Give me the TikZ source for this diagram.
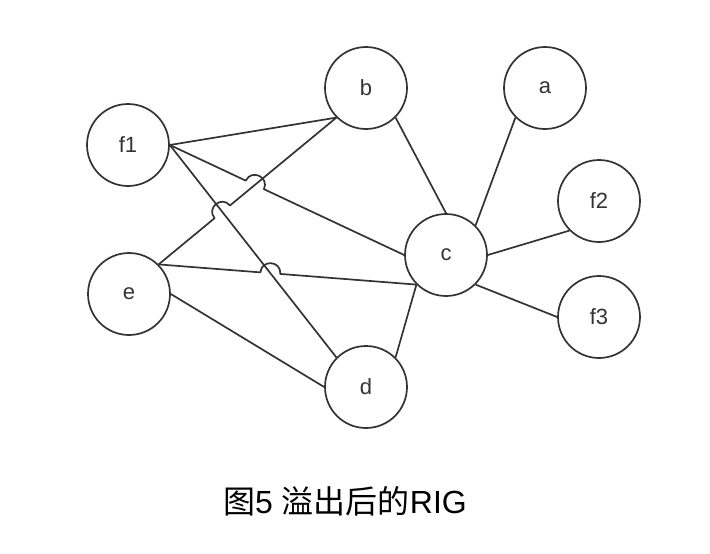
\documentclass[tikz,border=0pt]{standalone}
\usepackage{fontspec}
\setmainfont{Liberation Sans}
\newfontfamily\cjk{Noto Sans CJK SC}
\usetikzlibrary{calc,intersections}
\definecolor{ink}{HTML}{333333}
\tikzset{
  vtx/.style={circle,draw=ink,line width=1.7pt,minimum size=82pt,inner sep=0pt,
    text=ink,font=\fontsize{22}{22}\selectfont},
  edge/.style={draw=ink,line width=1.7pt,line join=round},
}
\newcommand{\hr}{10pt}
\begin{document}
\begin{tikzpicture}[x=1pt,y=-1pt]
\useasboundingbox (0,0) rectangle (710,554);
\node[vtx] (f1) at (128,145) {f1};
\node[vtx] (b)  at (366,88)  {b};
\node[vtx] (a)  at (545,88)  {a};
\node[vtx] (f2) at (599,201) {f2};
\node[vtx] (c)  at (446,255) {c};
\node[vtx] (f3) at (599,317) {f3};
\node[vtx] (e)  at (129,294) {e};
\node[vtx] (d)  at (366,387) {d};
% crossing points
\path[name path=fc] (f1.east) -- (c.west);
\path[name path=eb] (e.45) -- (b.225);
\path[name path=fd] (f1.east) -- (d.135);
\path[name path=ec] (e.45) -- (c.225);
\path[name intersections={of=fc and eb, by=X1}];
\path[name intersections={of=eb and fd, by=X2}];
\path[name intersections={of=ec and fd, by=X3}];
\coordinate (h1a) at ($(X1)!\hr!(f1.east)$);
\coordinate (h1b) at ($(X1)!\hr!(c.west)$);
\coordinate (h2a) at ($(X2)!\hr!(e.45)$);
\coordinate (h2b) at ($(X2)!\hr!(b.225)$);
\coordinate (h3a) at ($(X3)!\hr!(e.45)$);
\coordinate (h3b) at ($(X3)!\hr!(c.225)$);
% edges
\draw[edge] (f1.east) -- (b.225);
\draw[edge] (f1.east) -- (h1a) .. controls ($(h1a)!0.667!90:(h1b)$) and ($(h1b)!0.667!-90:(h1a)$) .. (h1b) -- (c.west);
\draw[edge] (f1.east) -- (d.135);
\draw[edge] (e.45) -- (h2a) .. controls ($(h2a)!0.667!90:(h2b)$) and ($(h2b)!0.667!-90:(h2a)$) .. (h2b) -- (b.225);
\draw[edge] (e.45) -- (h3a) .. controls ($(h3a)!0.667!90:(h3b)$) and ($(h3b)!0.667!-90:(h3a)$) .. (h3b) -- (c.225);
\draw[edge] (e.east) -- (d.west);
\draw[edge] (b.-45) -- (c.north);
\draw[edge] (a.225) -- (c.45);
\draw[edge] (f2.225) -- (c.east);
\draw[edge] (f3.west) -- (c.-45);
\draw[edge] (d.45) -- (c.225);
% caption
\node[text=black,font=\fontsize{32}{32}\selectfont] (cap) at (345,501) {{\cjk 图}5 {\cjk 溢出后的}RIG};
\end{tikzpicture}
\end{document}
